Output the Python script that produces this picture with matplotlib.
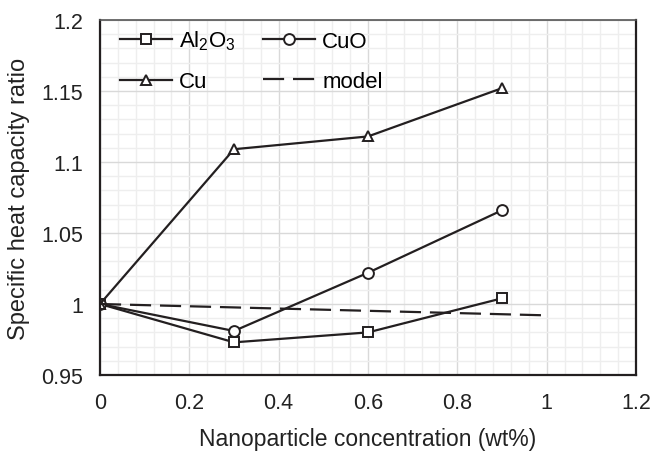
import matplotlib
matplotlib.use("Agg")
import matplotlib.pyplot as plt
from matplotlib.ticker import MultipleLocator, FuncFormatter

plt.rcParams["font.family"] = ["Liberation Sans", "DejaVu Sans"]
plt.rcParams["mathtext.fontset"] = "custom"
plt.rcParams["mathtext.rm"] = "Liberation Sans"

conc = [0, 0.3, 0.6, 0.9]
al2o3 = [1.0, 0.973, 0.980, 1.004]
cuo = [1.0, 0.981, 1.022, 1.066]
cu = [1.0, 1.109, 1.118, 1.152]
model_x = [0, 1.0]
model_y = [1.0, 0.992]

ink = "#231f20"

fig = plt.figure(figsize=(6.55, 4.52), dpi=100)
ax = fig.add_axes([100 / 655, 1 - 376 / 452, 536 / 655, 355 / 452])

mk = dict(color=ink, lw=1.6, markersize=7.8, markerfacecolor="white",
          markeredgecolor=ink, markeredgewidth=1.4)
h1, = ax.plot(conc, al2o3, marker="s", label="Al$_\\mathrm{2}$O$_\\mathrm{3}$", **mk)
h2, = ax.plot(conc, cuo, marker="o", label="CuO", **mk)
h3, = ax.plot(conc, cu, marker="^", label="Cu", **mk)
h4, = ax.plot(model_x, model_y, color=ink, lw=1.6, dashes=(9.5, 4), label="model")

ax.set_xlim(0, 1.2)
ax.set_ylim(0.95, 1.2)
ax.xaxis.set_major_locator(MultipleLocator(0.2))
ax.xaxis.set_minor_locator(MultipleLocator(0.04))
ax.yaxis.set_major_locator(MultipleLocator(0.05))
ax.yaxis.set_minor_locator(MultipleLocator(0.01))
fmt = FuncFormatter(lambda v, p: f"{v:.2f}".rstrip("0").rstrip("."))
ax.xaxis.set_major_formatter(fmt)
ax.yaxis.set_major_formatter(fmt)

ax.grid(which="major", color="#d9d9d9", lw=1.0)
ax.grid(which="minor", color="#eeeeee", lw=1.0)
ax.set_axisbelow(True)
ax.tick_params(which="both", length=0, labelsize=15.5, colors="#222222")
ax.tick_params(axis="x", pad=12)
ax.tick_params(axis="y", pad=12)

for s in ["left", "bottom", "right"]:
    ax.spines[s].set_color(ink)
    ax.spines[s].set_linewidth(1.6)
ax.spines["top"].set_color("#555555")
ax.spines["top"].set_linewidth(1.2)

ax.set_xlabel("Nanoparticle concentration (wt%)", fontsize=16.5, color="#222222", labelpad=10)
ax.set_ylabel("Specific heat capacity ratio", fontsize=17, color="#222222", labelpad=8)

# row-wise legend order: Al2O3, CuO / Cu, model
ax.legend([h1, h3, h2, h4], [h1.get_label(), h3.get_label(), h2.get_label(), h4.get_label()],
          ncol=2, loc="upper left", frameon=False, fontsize=16, handlelength=2.35,
          labelspacing=0.85, columnspacing=1.25, handletextpad=0.3,
          borderpad=0, borderaxespad=0, bbox_to_anchor=(0.037, 0.975))

fig.savefig("out.png", dpi=100)
